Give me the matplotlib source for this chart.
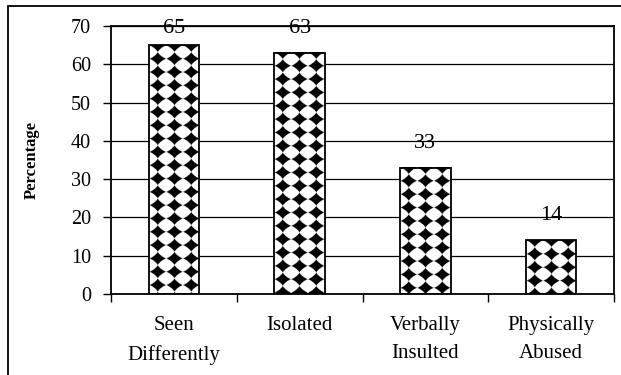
#!/usr/bin/env python3
# bar chart of experiences, percentage per category

import numpy as np
import matplotlib
matplotlib.use("Agg")
import matplotlib.pyplot as plt
from matplotlib.patches import Rectangle

categories = ["Seen\nDifferently", "Isolated", "Verbally\nInsulted", "Physically\nAbused"]
values = [65, 63, 33, 14]
yticks = [0, 10, 20, 30, 40, 50, 60, 70]

plt.rcParams['font.family'] = ['Liberation Serif', 'DejaVu Serif']

fig = plt.figure(figsize=(6.21, 3.75), dpi=100)
ax = fig.add_axes([111/621, 81/375, 503/621, 268/375])

# outer frame, right and bottom edges fall outside the picture
fig.patches.append(Rectangle((8/621, -0.1), 1.0, (375-6)/375 + 0.1,
                             transform=fig.transFigure, fill=False,
                             edgecolor='black', linewidth=1.3))

x = np.arange(len(categories))
ax.set_xlim(-0.5, len(categories) - 0.5)
ax.set_ylim(0, 70)

# pixel scale of data units, for the bar texture
p0 = ax.transData.transform((0, 0))
p1 = ax.transData.transform((1, 10))
ppx = p1[0] - p0[0]
ppy = (p1[1] - p0[1]) / 10

width = 0.4
px, py, pw, ss = 16.5, 13.3, 1.3, 4
for xi, v in zip(x, values):
    wpx = width * ppx
    hpx = v * ppy
    nx = int(round(wpx * ss))
    ny = int(round(hpx * ss))
    xx = (np.arange(nx) + 0.5) / ss - wpx / 2
    yy = (np.arange(ny) + 0.5) / ss
    X, Y = np.meshgrid(xx, yy)
    dx = np.abs(np.mod(X, px) - px / 2) / (0.5 * px)
    dy = np.abs(np.mod(Y - 0.4, py) - py / 2) / (0.5 * py)
    img = (dx**pw + dy**pw < 1).astype(float)
    ax.imshow(img, cmap='gray', vmin=0, vmax=1, origin='upper', aspect='auto',
              extent=(xi - width/2, xi + width/2, 0, v), zorder=2,
              interpolation='antialiased')

ax.bar(x, values, width=width, facecolor='none', edgecolor='black',
       linewidth=1.3, zorder=3)

# labels sit above the bars, but are kept inside the top of the plot
for xi, v in zip(x, values):
    ax.text(xi, min(v + 5.2, 68.2), str(v), ha='center', va='baseline', fontsize=16)

ax.set_xlim(-0.5, len(categories) - 0.5)
ax.set_ylim(0, 70)
ax.set_yticks(yticks)
ax.yaxis.grid(True, color='black', linewidth=0.9, zorder=1)
ax.set_axisbelow(True)

ax.set_xticks(np.arange(len(categories) + 1) - 0.5)
ax.set_xticklabels([])
ax.set_xticks(x, minor=True)
ax.set_xticklabels(categories, minor=True, fontsize=15, linespacing=1.65)
ax.tick_params(axis='x', which='minor', length=0, pad=16)
ax.tick_params(axis='x', which='major', direction='out', length=6, width=1)
ax.tick_params(axis='y', direction='out', length=6, width=1, pad=8.5, labelsize=14.5)

for s in ax.spines.values():
    s.set_linewidth(1.3)

ax.set_ylabel("Percentage", fontsize=12, fontweight='bold')
ax.yaxis.set_label_coords(-0.142, 0.5)

fig.savefig("out.png", dpi=100)
